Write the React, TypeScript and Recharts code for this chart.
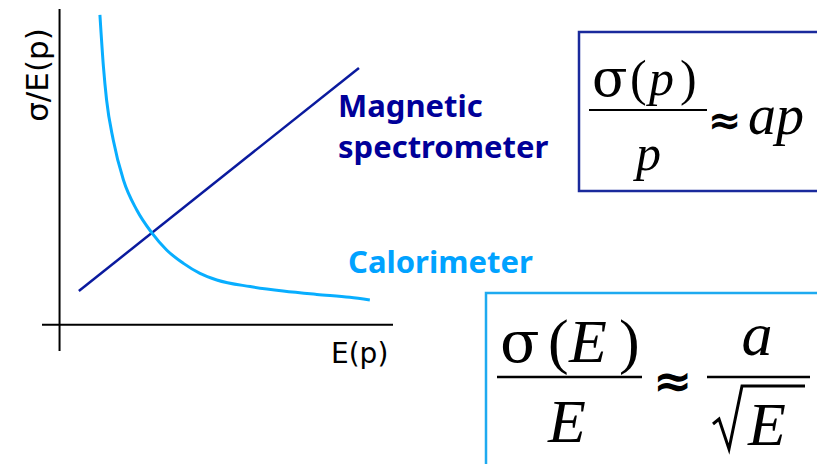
import React from 'react'
import { ComposedChart, Line, XAxis, YAxis, ReferenceLine } from 'recharts'

// sketch: resolution vs energy / momentum (arbitrary units)
const spectrometerE = [0.55, 8.53]
const spectrometerRes = [1.28, 9.76]

const calorimeterE = [1.15, 1.25, 1.34, 1.53, 1.82, 2.2, 2.63, 3.05, 3.53, 4.0, 4.48, 5.43, 6.37, 7.33, 8.27, 8.84]
const calorimeterRes = [11.78, 9.81, 8.54, 7.02, 5.5, 4.36, 3.49, 2.84, 2.33, 1.95, 1.7, 1.45, 1.28, 1.15, 1.04, 0.94]

const xDomain = [-0.5, 9.5]
const yDomain = [-1, 12]

const DARK = '#000099'
const LIGHT = '#00A2FF'

const spectrometerData = spectrometerE.map((e, i) => ({ x: e, y: spectrometerRes[i] }))
const calorimeterData = calorimeterE.map((e, i) => ({ x: e, y: calorimeterRes[i] }))

const serif = '"Liberation Serif", "Times New Roman", serif'
const sigmaFont = '"DejaVu Serif", serif'
const sans = '"DejaVu Sans", Verdana, sans-serif'
const labelFont = '"Noto Sans", sans-serif'

function Annotations() {
  return (
    <svg width={817} height={464} style={{ position: 'absolute', left: 0, top: 0, pointerEvents: 'none' }}>
      {/* axis labels */}
      <text x={48} y={75} fontFamily={sans} fontSize={31} textAnchor="middle" transform="rotate(-90 48 75)" fill="#000">
        σ/E(p)
      </text>
      <text x={331} y={363} fontFamily={sans} fontSize={28} fill="#000">E(p)</text>

      {/* series names */}
      <text x={338} y={117} fontFamily={labelFont} fontWeight={700} fontSize={31} fill={DARK}>Magnetic</text>
      <text x={338} y={158} fontFamily={labelFont} fontWeight={700} fontSize={31} fill={DARK}>spectrometer</text>
      <text x={348} y={273} fontFamily={labelFont} fontWeight={700} fontSize={31} fill={LIGHT}>Calorimeter</text>

      {/* sigma(p)/p ~ ap */}
      <rect x={579} y={32} width={300} height={159} fill="none" stroke="#1A2A9C" strokeWidth={2.5} />
      <g fontFamily={serif} fontSize={50} fill="#000">
        <text x={592} y={96} fontFamily={sigmaFont} fontSize={52}>σ</text>
        <text x={630} y={95}>(</text>
        <text x={649} y={95} fontStyle="italic">p</text>
        <text x={680} y={95}>)</text>
        <text x={636} y={170} fontStyle="italic">p</text>
        <text x={708} y={134} fontFamily={sans} fontWeight={700} fontSize={40}>≈</text>
        <text x={748} y={134} fontStyle="italic" fontSize={56}>ap</text>
      </g>
      <line x1={589} x2={707} y1={110} y2={110} stroke="#000" strokeWidth={2} />

      {/* sigma(E)/E ~ a/sqrt(E) */}
      <rect x={486} y={293} width={360} height={200} fill="none" stroke="#1EAAF0" strokeWidth={2.5} />
      <g fontFamily={serif} fontSize={62} fill="#000">
        <text x={500} y={362} fontFamily={sigmaFont} fontSize={58}>σ</text>
        <text x={548} y={362}>(</text>
        <text x={569} y={362} fontStyle="italic">E</text>
        <text x={619} y={362}>)</text>
        <text x={548} y={442} fontStyle="italic">E</text>
        <text x={653} y={397} fontFamily={sans} fontWeight={700} fontSize={47}>≈</text>
        <text x={757} y={355} fontStyle="italic" textAnchor="middle">a</text>
        <text x={748} y={445} fontStyle="italic">E</text>
      </g>
      <line x1={497} x2={642} y1={377} y2={377} stroke="#000" strokeWidth={2.5} />
      <line x1={707} x2={810} y1={377} y2={377} stroke="#000" strokeWidth={2.5} />
      <path d="M713 424 L719 419 L729 449 L742 386 L805 386" fill="none" stroke="#000" strokeWidth={3} strokeLinejoin="miter" />
    </svg>
  )
}

export default function App() {
  return (
    <div style={{ position: 'absolute', left: 0, top: 0, width: 817, height: 464, background: '#fff' }}>
      <ComposedChart
        width={817}
        height={464}
        margin={{ top: 9, right: 424, bottom: 113, left: 42 }}
      >
        <XAxis type="number" dataKey="x" domain={xDomain} hide allowDataOverflow />
        <YAxis type="number" dataKey="y" domain={yDomain} hide allowDataOverflow />
        <ReferenceLine x={0} stroke="#000" strokeWidth={2} />
        <ReferenceLine y={0} stroke="#000" strokeWidth={2} />
        <Line
          data={spectrometerData}
          dataKey="y"
          type="linear"
          stroke="#0A1A9E"
          strokeWidth={2.5}
          dot={false}
          isAnimationActive={false}
        />
        <Line
          data={calorimeterData}
          dataKey="y"
          type="monotone"
          stroke="#08AEFF"
          strokeWidth={3}
          dot={false}
          isAnimationActive={false}
        />
      </ComposedChart>
      <Annotations />
    </div>
  )
}
